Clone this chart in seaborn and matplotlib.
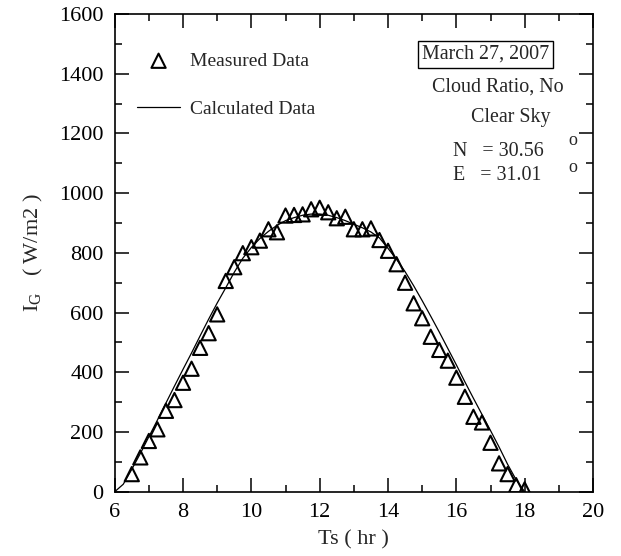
import numpy as np
import pandas as pd
import matplotlib
matplotlib.use("Agg")
import matplotlib.pyplot as plt
from matplotlib.ticker import MultipleLocator
import seaborn as sns

# Measured global irradiance, every quarter hour (solar time)
measured_hours = [6.5, 6.75, 7.0, 7.25, 7.5, 7.75, 8.0, 8.25, 8.5, 8.75,
                  9.0, 9.25, 9.5, 9.75, 10.0, 10.25, 10.5, 10.75, 11.0, 11.25,
                  11.5, 11.75, 12.0, 12.25, 12.5, 12.75, 13.0, 13.25, 13.5, 13.75,
                  14.0, 14.25, 14.5, 14.75, 15.0, 15.25, 15.5, 15.75, 16.0, 16.25,
                  16.5, 16.75, 17.0, 17.25, 17.5, 17.75, 18.0]
measured_ig = [59, 115, 170, 209, 271, 307, 365, 412, 482, 531,
               594, 706, 752, 799, 819, 841, 879, 869, 925, 927,
               929, 946, 951, 936, 916, 921, 879, 879, 882, 843,
               807, 762, 700, 631, 581, 519, 475, 439, 382, 318,
               251, 232, 164, 95, 59, 22, 8]

# Model output
calc_hours = [6.0, 6.25, 6.5, 6.75, 7.0, 7.25, 7.5, 7.75, 8.0, 8.25,
              8.5, 8.75, 9.0, 9.25, 9.5, 9.75, 10.0, 10.25, 10.5, 10.75,
              11.0, 11.25, 11.5, 11.75, 12.0, 12.25, 12.5, 12.75, 13.0, 13.25,
              13.5, 13.75, 14.0, 14.25, 14.5, 14.75, 15.0, 15.25, 15.5, 15.75,
              16.0, 16.25, 16.5, 16.75, 17.0, 17.25, 17.5, 17.75, 18.0]
calc_ig = [0, 25, 75, 128, 184, 240, 297, 354, 410, 465,
           522, 578, 632, 683, 735, 782, 818, 848, 872, 892,
           908, 918, 926, 930, 930, 926, 918, 908, 896, 884,
           870, 850, 815, 778, 737, 690, 640, 588, 535, 480,
           425, 368, 313, 259, 205, 150, 92, 40, 0]

x_ticks = [6, 8, 10, 12, 14, 16, 18, 20]
y_ticks = [0, 200, 400, 600, 800, 1000, 1200, 1400, 1600]

sns.set_style("ticks")
plt.rcParams["font.family"] = ["Liberation Serif", "DejaVu Serif"]
plt.rcParams["mathtext.fontset"] = "custom"
plt.rcParams["mathtext.rm"] = "Liberation Serif"
plt.rcParams["mathtext.it"] = "Liberation Serif:italic"
plt.rcParams["mathtext.default"] = "rm"

measured = pd.DataFrame({"Ts": measured_hours, "IG": measured_ig})
calculated = pd.DataFrame({"Ts": calc_hours, "IG": calc_ig})

fig = plt.figure(figsize=(6.21, 5.56), dpi=100)
ax = fig.add_axes([0.1847, 0.1156, 0.7702, 0.8592])

sns.scatterplot(data=measured, x="Ts", y="IG", ax=ax, marker="^", s=105,
                facecolor="none", edgecolor="black", linewidth=1.5,
                label="Measured Data", zorder=3)
sns.lineplot(data=calculated, x="Ts", y="IG", ax=ax, color="black",
             linewidth=0.9, estimator=None, label="Calculated Data", zorder=2)

ax.set_xlim(6, 20)
ax.set_ylim(0, 1600)
ax.set_xticks(x_ticks)
ax.set_yticks(y_ticks)
ax.xaxis.set_minor_locator(MultipleLocator(1))
ax.yaxis.set_minor_locator(MultipleLocator(100))
ax.tick_params(which="both", direction="in", top=True, right=True,
               colors="black", width=1.1, labelsize=16)
ax.tick_params(which="major", length=10, pad=8)
ax.tick_params(which="minor", length=5)
for sp in ax.spines.values():
    sp.set_visible(True)
    sp.set_linewidth(1.2)
    sp.set_color("black")

ax.set_xlabel("Ts ( hr )", fontsize=16, labelpad=6)
ax.set_ylabel("I$_{G}$   ( W/m2 )", fontsize=16, labelpad=10)

leg = ax.legend(loc="upper left", bbox_to_anchor=(0.047, 0.92),
                frameon=False, fontsize=14, handlelength=2.2,
                handletextpad=0.5, labelspacing=1.56, borderpad=0,
                borderaxespad=0)

ax.text(0.776, 0.916, "March 27, 2007", transform=ax.transAxes, fontsize=14.4,
        ha="center", va="center",
        bbox=dict(boxstyle="square,pad=0.2", facecolor="white",
                  edgecolor="black", linewidth=1.0))
ax.text(0.800, 0.847, "Cloud Ratio, No", transform=ax.transAxes,
        fontsize=14.4, ha="center", va="center")
ax.text(0.829, 0.784, "Clear Sky", transform=ax.transAxes,
        fontsize=14.4, ha="center", va="center")
ax.text(0.707, 0.713, "N   = 30.56", transform=ax.transAxes,
        fontsize=14.4, ha="left", va="center")
ax.text(0.958, 0.736, "o", transform=ax.transAxes,
        fontsize=13, ha="center", va="center")
ax.text(0.707, 0.663, "E   = 31.01", transform=ax.transAxes,
        fontsize=14.4, ha="left", va="center")
ax.text(0.958, 0.679, "o", transform=ax.transAxes,
        fontsize=13, ha="center", va="center")

fig.savefig("out.png", dpi=100)
